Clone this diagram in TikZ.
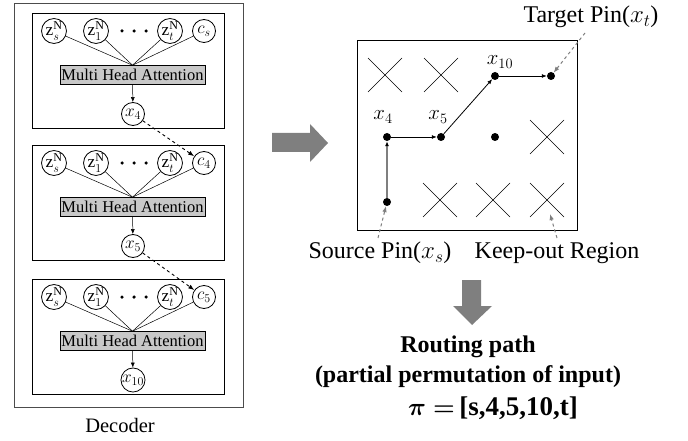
\documentclass[tikz,border=0pt]{standalone}
\usepackage{amsmath,bm}
\usepackage{fontspec}
\setmainfont{Liberation Serif}
\usetikzlibrary{arrows.meta}
\definecolor{arrgray}{HTML}{7F7F7F}
\definecolor{mhagray}{HTML}{C8C8C8}
\begin{document}
\begin{tikzpicture}[x=1pt,y=-1pt,
  circ/.style={circle,draw,line width=0.8pt,minimum size=23pt,inner sep=0pt,font=\fontsize{17.28}{18}\selectfont},
  mha/.style={draw,line width=0.6pt,fill=mhagray,minimum width=145pt,minimum height=19pt,inner sep=0pt,font=\fontsize{16.5}{17}\selectfont},
  ibox/.style={draw,line width=1pt,anchor=north west,inner sep=0pt},
  obox/.style={draw=black!70,line width=1.4pt,anchor=north west,inner sep=0pt},
  edot/.style={circle,fill,inner sep=0pt,minimum size=3.5pt},
  pdot/.style={circle,fill,inner sep=0pt,minimum size=8pt},
  conn/.style={line width=0.5pt},
  crossline/.style={line width=0.6pt},
  dasharr/.style={dashed,line width=0.9pt,-{Latex[length=6pt,width=4.5pt]}},
  gdasharr/.style={dashed,draw=arrgray,line width=1pt,-{Latex[length=6pt,width=4.5pt]}},
  patharr/.style={line width=0.8pt,-{Latex[length=5pt,width=4pt]}},
  lbl/.style={font=\fontsize{24}{28}\selectfont,inner sep=0pt},
  xlbl/.style={font=\fontsize{20.74}{22}\selectfont,inner sep=0pt},
  bigarr/.style={fill=arrgray,draw=none}
]
\useasboundingbox (0,0) rectangle (688,441);

% ---------- Decoder ----------
\node[obox,minimum width=229pt,minimum height=404pt] (outer) at (14,3) {};
\node[font=\fontsize{20.5}{22}\selectfont,inner sep=0pt] (dec) at (120,425) {Decoder};

\foreach \i/\T/\c/\x in {1/13/s/4,2/145/4/5,3/279/5/10}{
  \node[ibox,minimum width=192pt,minimum height=115pt] (b\i) at (32,\T) {};
  \node[circ] (zs\i) at (54,\T+18) {$\mathrm{z}_s^{\mathrm{N}}$};
  \node[circ] (zo\i) at (96,\T+18) {$\mathrm{z}_1^{\mathrm{N}}$};
  \node[circ] (zt\i) at (170,\T+18) {$\mathrm{z}_t^{\mathrm{N}}$};
  \node[circ] (c\i) at (204,\T+18) {$c_{\c}$};
  \node[edot] (da\i) at (122,\T+18) {};
  \node[edot] (db\i) at (134,\T+18) {};
  \node[edot] (dc\i) at (146,\T+18) {};
  \node[mha] (m\i) at (132.5,\T+62) {Multi Head Attention};
  \node[circ] (x\i) at (133,\T+101) {$x_{\x}$};
  \draw[conn] (zs\i) -- (m\i.north);
  \draw[conn] (zo\i) -- (m\i.north);
  \draw[conn] (zt\i) -- (m\i.north);
  \draw[conn] (c\i) -- (m\i.north);
  \draw[conn,-{Latex[length=5pt,width=4pt]}] (m\i) -- (x\i);
}
\draw[dasharr] (x1) -- (c2);
\draw[dasharr] (x2) -- (c3);

% ---------- Big arrows ----------
\fill[bigarr] (272,133) -- (310,133) -- (310,124) -- (328,143) -- (310,162) -- (310,152) -- (272,152) -- cycle;
\fill[bigarr] (462,280) -- (481,280) -- (481,306) -- (492,306) -- (472,325) -- (453,306) -- (462,306) -- cycle;

% ---------- Grid ----------
\node[draw,line width=1pt,anchor=north west,minimum width=220pt,minimum height=190pt,inner sep=0pt] (grid) at (357,40) {};
\foreach \cx/\cy in {385/75,441/75,547/137,440/200,493/200,547/200}{
  \draw[crossline] (\cx-17,\cy-17) -- (\cx+17,\cy+17);
  \draw[crossline] (\cx-17,\cy+17) -- (\cx+17,\cy-17);
}
\node[pdot] (ps) at (387,202) {};
\node[pdot] (p4) at (387,137) {};
\node[pdot] (p5) at (441,137) {};
\node[pdot] (pm) at (495,137) {};
\node[pdot] (p10) at (495,76) {};
\node[pdot] (pt) at (551,76) {};

\draw[patharr,draw=arrgray,line width=1.3pt,-{Latex[length=5pt,width=4pt,color=black]}] (ps) -- (p4);
\draw[patharr] (p4) -- (p5);
\draw[patharr] (p5) -- (p10);
\draw[patharr] (p10) -- (pt);

\node[xlbl] (l4) at (383,117) {$x_4$};
\node[xlbl] (l5) at (438,117) {$x_5$};
\node[xlbl] (l10) at (500,62) {$x_{10}$};

\node[lbl] (tgt) at (591,17) {Target Pin($x_t$)};
\node[lbl] (src) at (380,253) {Source Pin($x_s$)};
\node[lbl] (ko) at (557,253) {Keep-out Region};
\coordinate (tgtA) at (585,33);
\coordinate (srcA) at (378,238);
\coordinate (koA) at (557,238);
\coordinate (koB) at (550,214);
\draw[gdasharr] (tgtA) -- (pt);
\draw[gdasharr] (srcA) -- (ps);
\draw[gdasharr] (koA) -- (koB);

% ---------- Routing path ----------
\node[font=\fontsize{24}{28}\selectfont\bfseries,inner sep=0pt] (rp1) at (468,347) {Routing path};
\node[font=\fontsize{24}{28}\selectfont\bfseries,inner sep=0pt] (rp2) at (468,377) {(partial permutation of input)};
\node[font=\fontsize{27}{30}\selectfont\bfseries,inner sep=0pt,anchor=west] (rp3) at (408,408) {$\boldsymbol{\pi}\boldsymbol{=}$\,[s,4,5,10,t]};
\end{tikzpicture}
\end{document}
